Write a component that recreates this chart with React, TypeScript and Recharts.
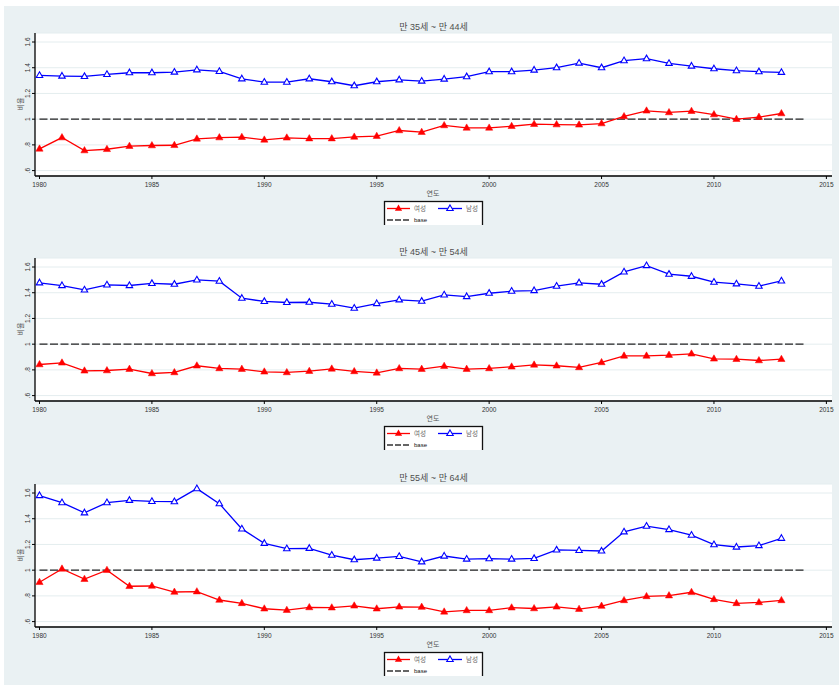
import { LineChart, Line, XAxis, YAxis, CartesianGrid, ReferenceLine } from 'recharts';

const years = [
  1980, 1981, 1982, 1983, 1984, 1985, 1986, 1987, 1988, 1989,
  1990, 1991, 1992, 1993, 1994, 1995, 1996, 1997, 1998, 1999,
  2000, 2001, 2002, 2003, 2004, 2005, 2006, 2007, 2008, 2009,
  2010, 2011, 2012, 2013,
];

const xTicks = [1980, 1985, 1990, 1995, 2000, 2005, 2010, 2015];
const yTicks = [0.6, 0.8, 1, 1.2, 1.4, 1.6];
const yTickLabels = ['.6', '.8', '1', '1.2', '1.4', '1.6'];

const panelTitles = ['만 35세 ~ 만 44세', '만 45세 ~ 만 54세', '만 55세 ~ 만 64세'];
const seriesNames = ['여성', '남성', 'base'];

const baseLevel = 1;
const baseStart = 1980;
const baseEnd = 2014;

// 만 35~44세
const women3544 = [
  0.769, 0.857, 0.756, 0.766, 0.79, 0.795, 0.797, 0.847, 0.857, 0.86,
  0.839, 0.855, 0.849, 0.849, 0.862, 0.868, 0.912, 0.899, 0.951, 0.932,
  0.932, 0.945, 0.961, 0.958, 0.956, 0.966, 1.021, 1.065, 1.052, 1.062,
  1.036, 1.0, 1.016, 1.044,
];
const men3544 = [
  1.34, 1.335, 1.332, 1.348, 1.361, 1.361, 1.366, 1.384, 1.371, 1.314,
  1.288, 1.288, 1.314, 1.291, 1.26, 1.291, 1.306, 1.296, 1.312, 1.33,
  1.369, 1.369, 1.382, 1.4, 1.436, 1.4, 1.455, 1.47, 1.434, 1.413,
  1.392, 1.377, 1.369, 1.364,
];

// 만 45~54세
const women4554 = [
  0.842, 0.855, 0.793, 0.795, 0.806, 0.772, 0.78, 0.832, 0.811, 0.806,
  0.785, 0.78, 0.79, 0.808, 0.788, 0.777, 0.811, 0.806, 0.829, 0.806,
  0.811, 0.824, 0.839, 0.832, 0.819, 0.858, 0.909, 0.909, 0.915, 0.925,
  0.886, 0.883, 0.873, 0.883,
];
const men4554 = [
  1.477, 1.456, 1.422, 1.461, 1.456, 1.472, 1.466, 1.5, 1.49, 1.357,
  1.332, 1.324, 1.326, 1.311, 1.28, 1.316, 1.345, 1.334, 1.383, 1.37,
  1.396, 1.412, 1.417, 1.451, 1.477, 1.466, 1.562, 1.611, 1.544, 1.528,
  1.482, 1.469, 1.451, 1.492,
];

// 만 55~64세
const women5564 = [
  0.906, 1.01, 0.93, 1.0, 0.875, 0.877, 0.83, 0.833, 0.768, 0.742,
  0.7, 0.689, 0.71, 0.708, 0.723, 0.7, 0.715, 0.713, 0.676, 0.687,
  0.687, 0.708, 0.702, 0.715, 0.697, 0.721, 0.765, 0.796, 0.802, 0.828,
  0.773, 0.742, 0.749, 0.765,
];
const men5564 = [
  1.58, 1.525, 1.446, 1.525, 1.543, 1.535, 1.533, 1.634, 1.517, 1.321,
  1.209, 1.167, 1.17, 1.117, 1.081, 1.094, 1.107, 1.065, 1.11, 1.086,
  1.089, 1.086, 1.091, 1.157, 1.154, 1.149, 1.298, 1.342, 1.316, 1.272,
  1.198, 1.18, 1.191, 1.248,
];

const FONT = '"Liberation Sans", Arial, "Noto Sans CJK KR", sans-serif';
const RED = '#ff0000';
const BLUE = '#0000ff';

const triPath = (cx: number, cy: number, s = 1) =>
  `M${cx},${cy - 4 * s} L${cx + 3.6 * s},${cy + 2.3 * s} L${cx - 3.6 * s},${cy + 2.3 * s} Z`;

const FilledTri = (props: any) => {
  const { cx, cy, index } = props;
  if (cx == null || cy == null) return <g key={`f${index}`} />;
  return <path key={`f${index}`} d={triPath(cx, cy)} fill={RED} stroke={RED} strokeWidth={0.5} />;
};

const HollowTri = (props: any) => {
  const { cx, cy, index } = props;
  if (cx == null || cy == null) return <g key={`h${index}`} />;
  return <path key={`h${index}`} d={triPath(cx, cy, 0.9)} fill="#fff" stroke={BLUE} strokeWidth={1.1} />;
};

const YTick = (props: any) => {
  const { x, y, payload } = props;
  const i = yTicks.indexOf(payload.value);
  const label = i >= 0 ? yTickLabels[i] : String(payload.value);
  return (
    <text
      x={x}
      y={y}
      transform={`rotate(-90 ${x} ${y})`}
      textAnchor="middle"
      fontSize={6.5}
      fontFamily={FONT}
      fill="#333"
    >
      {label}
    </text>
  );
};

interface PanelProps {
  title: string;
  women: number[];
  men: number[];
  top: number;
}

const Panel = ({ title, women, men, top }: PanelProps) => {
  const data = years.map((year, i) => ({ year, women: women[i], men: men[i] }));

  return (
    <div style={{ position: 'absolute', left: 0, top, width: 839, height: 225 }}>
      <LineChart
        width={839}
        height={225}
        data={data}
        margin={{ top: 33, right: 7, bottom: 29, left: 0 }}
      >
        <CartesianGrid vertical={false} fill="#ffffff" stroke="#e4edef" strokeWidth={1} />
        <XAxis
          dataKey="year"
          type="number"
          domain={[1979.8, 2015.25]}
          ticks={xTicks}
          allowDataOverflow
          height={20}
          tickSize={3}
          tickMargin={3}
          tick={{ fontSize: 6.5, fill: '#333', fontFamily: FONT }}
          axisLine={{ stroke: '#000', strokeWidth: 1.3 }}
          tickLine={{ stroke: '#000' }}
        />
        <YAxis
          type="number"
          domain={[0.558, 1.67]}
          ticks={yTicks}
          allowDataOverflow
          width={35}
          tickSize={3}
          tickMargin={2}
          tick={<YTick />}
          axisLine={{ stroke: '#000', strokeWidth: 1.3 }}
          tickLine={{ stroke: '#000' }}
        />
        <ReferenceLine
          segment={[
            { x: baseStart, y: baseLevel },
            { x: baseEnd, y: baseLevel },
          ]}
          stroke="#222"
          strokeWidth={1.4}
          strokeDasharray="8 2.5"
        />
        <Line
          dataKey="women"
          stroke={RED}
          strokeWidth={1.3}
          dot={FilledTri}
          activeDot={false}
          isAnimationActive={false}
        />
        <Line
          dataKey="men"
          stroke={BLUE}
          strokeWidth={1.3}
          dot={HollowTri}
          activeDot={false}
          isAnimationActive={false}
        />
      </LineChart>

      <svg
        width={839}
        height={225}
        style={{ position: 'absolute', left: 0, top: 0, pointerEvents: 'none' }}
        fontFamily={FONT}
      >
        <text x={433.5} y={27} textAnchor="middle" dominantBaseline="central" fontSize={9} fill="#4f4f4f">
          {title}
        </text>
        <text
          x={20}
          y={104}
          transform="rotate(-90 20 104)"
          textAnchor="middle"
          dominantBaseline="central"
          fontSize={7}
          fill="#555"
        >
          비율
        </text>
        <text x={433} y={193} textAnchor="middle" dominantBaseline="central" fontSize={7} fill="#555">
          연도
        </text>

        <rect x={384.5} y={201.5} width={98} height={25.5} fill="#fff" stroke="#111" strokeWidth={1.3} />
        <line x1={387} y1={208.5} x2={410} y2={208.5} stroke={RED} strokeWidth={1.3} />
        <path d={triPath(398.5, 208.5)} fill={RED} />
        <text x={414} y={208.5} dominantBaseline="central" fontSize={6.5} fill="#666">
          {seriesNames[0]}
        </text>
        <line x1={438} y1={208.5} x2={462} y2={208.5} stroke={BLUE} strokeWidth={1.3} />
        <path d={triPath(450, 208.5, 0.9)} fill="#fff" stroke={BLUE} strokeWidth={1.1} />
        <text x={466} y={208.5} dominantBaseline="central" fontSize={6.5} fill="#666">
          {seriesNames[1]}
        </text>
        <line x1={387} y1={220} x2={410} y2={220} stroke="#333" strokeWidth={1.3} strokeDasharray="6 2" />
        <text x={414} y={220} dominantBaseline="central" fontSize={6} fill="#111">
          {seriesNames[2]}
        </text>
      </svg>
    </div>
  );
};

export default function App() {
  return (
    <div style={{ position: 'absolute', left: 0, top: 0, width: 839, height: 689, background: '#fff' }}>
      <div
        style={{
          position: 'absolute',
          left: 4,
          top: 6,
          width: 835,
          height: 679,
          background: '#eaf1f3',
        }}
      />
      <Panel title={panelTitles[0]} women={women3544} men={men3544} top={0} />
      <Panel title={panelTitles[1]} women={women4554} men={men4554} top={225} />
      <Panel title={panelTitles[2]} women={women5564} men={men5564} top={451} />
    </div>
  );
}
